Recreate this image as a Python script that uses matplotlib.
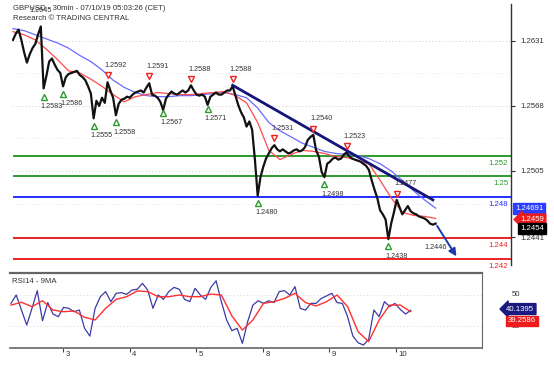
import numpy as np
import matplotlib
matplotlib.use("Agg")
import matplotlib.pyplot as plt
from matplotlib.transforms import blended_transform_factory as btf

# ---------------- data ----------------
close = [1.2632, 1.2638, 1.2642, 1.2632, 1.2620, 1.2610, 1.2618, 1.2624, 1.2628, 1.2637,
         1.2645, 1.2585, 1.2597, 1.2611, 1.2614, 1.2608, 1.2603, 1.2600, 1.2587, 1.2596,
         1.2599, 1.2600, 1.2601, 1.2602, 1.2598, 1.2596, 1.2593, 1.2587, 1.2580, 1.2556,
         1.2573, 1.2568, 1.2576, 1.2571, 1.2591, 1.2583, 1.2576, 1.2559, 1.2570, 1.2574,
         1.2575, 1.2577, 1.2576, 1.2579, 1.2581, 1.2582, 1.2583, 1.2581, 1.2586, 1.2590,
         1.2579, 1.2578, 1.2576, 1.2572, 1.2564, 1.2575, 1.2579, 1.2582, 1.2580, 1.2579,
         1.2581, 1.2583, 1.2581, 1.2583, 1.2588, 1.2583, 1.2579, 1.2578, 1.2579, 1.2577,
         1.2569, 1.2577, 1.2579, 1.2581, 1.2579, 1.2579, 1.2581, 1.2583, 1.2583, 1.2587,
         1.2578, 1.2569, 1.2562, 1.2557, 1.2548, 1.2553, 1.2545, 1.2516, 1.2481, 1.2499,
         1.2509, 1.2517, 1.2522, 1.2527, 1.2530, 1.2526, 1.2524, 1.2526, 1.2524, 1.2522,
         1.2523, 1.2525, 1.2526, 1.2524, 1.2525, 1.2528, 1.2535, 1.2538, 1.2540, 1.2525,
         1.2519, 1.2504, 1.2499, 1.2512, 1.2514, 1.2517, 1.2518, 1.2516, 1.2517, 1.2521,
         1.2523, 1.2519, 1.2517, 1.2516, 1.2515, 1.2514, 1.2512, 1.2510, 1.2506, 1.2496,
         1.2487, 1.2479, 1.2467, 1.2463, 1.2458, 1.2439, 1.2454, 1.2465, 1.2477, 1.2470,
         1.2463, 1.2467, 1.2471, 1.2466, 1.2464, 1.2463, 1.2461, 1.2460, 1.2459, 1.2457,
         1.2454, 1.2453, 1.2454]

# moving averages sampled every 4 bars
ma_fast = [1.2640, 1.2637, 1.2632, 1.2623, 1.2613, 1.2602, 1.2600, 1.2594, 1.2587, 1.2579,
           1.2572, 1.2577, 1.2579, 1.2581, 1.2580, 1.2579, 1.2579, 1.2580, 1.2581, 1.2582,
           1.2578, 1.2571, 1.2552, 1.2525, 1.2516, 1.2521, 1.2525, 1.2524, 1.2522, 1.2519,
           1.2518, 1.2515, 1.2512, 1.2496, 1.2479, 1.2465, 1.2462, 1.2461, 1.2459]
ma_slow = [1.2643, 1.2641, 1.2637, 1.2633, 1.2629, 1.2624, 1.2617, 1.2611, 1.2603, 1.2593,
           1.2586, 1.2581, 1.2578, 1.2577, 1.2577, 1.2578, 1.2578, 1.2579, 1.2580, 1.2581,
           1.2579, 1.2576, 1.2566, 1.2552, 1.2544, 1.2538, 1.2532, 1.2528, 1.2524, 1.2522,
           1.2521, 1.2520, 1.2517, 1.2512, 1.2505, 1.2496, 1.2486, 1.2477, 1.2469]

# RSI14 sampled every 2 bars, its 9MA every 4 bars
rsi = [44.6, 50.0, 40.3, 30.6, 41.4, 52.8, 33.4, 45.1, 37.7, 36.0,
       42.0, 41.4, 39.2, 40.3, 28.5, 23.5, 41.4, 48.9, 52.2, 45.7,
       51.1, 51.5, 50.4, 53.2, 53.7, 57.5, 53.2, 41.4, 50.0, 47.2,
       52.2, 54.9, 53.7, 47.2, 45.7, 54.3, 50.0, 47.2, 54.9, 59.2,
       45.7, 33.9, 27.0, 28.5, 18.8, 32.8, 43.5, 46.3, 44.6, 46.3,
       45.1, 52.2, 52.8, 50.0, 55.4, 41.4, 40.3, 44.6, 44.6, 47.8,
       49.4, 51.1, 45.1, 44.6, 36.0, 23.5, 19.2, 17.7, 21.4, 40.3,
       36.0, 45.7, 42.5, 44.6, 40.8, 37.7, 40.14]
rsi_ma = [43.5, 45.3, 42.5, 46.3, 40.3, 39.2, 39.7, 35.6, 33.9, 41.4,
          47.2, 48.9, 52.6, 52.2, 48.9, 48.9, 50.0, 48.9, 48.9, 50.6,
          50.0, 36.5, 27.4, 33.9, 44.6, 45.7, 47.8, 51.1, 45.1, 42.9,
          45.7, 50.0, 42.5, 26.3, 19.9, 33.9, 43.5, 43.5, 39.26]
rsi_last_text = "40.1395"
rsi_ma_last_text = "39.2586"

# pivots (bar index, price)
high_idx = [34, 49, 64, 79, 94, 108, 120, 138]
high_val = [1.2592, 1.2591, 1.2588, 1.2588, 1.2531, 1.2540, 1.2523, 1.2477]
low_idx = [11, 18, 29, 37, 54, 70, 88, 112, 135]
low_val = [1.2583, 1.2586, 1.2555, 1.2558, 1.2567, 1.2571, 1.2480, 1.2498, 1.2438]

levels = [1.252, 1.25, 1.248, 1.244, 1.242]
level_labels = ["1.252", "1.25", "1.248", "1.244", "1.242"]
level_colors = ["#2e9a2e", "#2e9a2e", "#2030ff", "#ee2020", "#ee2020"]

trend_x = [79, 151]
trend_y = [1.2588, 1.2477]
target_x = [152, 160]
target_y = [1.2454, 1.2420]

price_ticks = [1.2631, 1.2568, 1.2505, 1.2441]
day_ticks = [19.8, 45.1, 70.4, 95.7, 121.0, 146.3]
day_labels = ["3", "4", "5", "8", "9", "10"]

# ---------------- figure ----------------
W, H = 554, 365
plt.rcParams['font.family'] = ['Liberation Sans', 'DejaVu Sans']
fig = plt.figure(figsize=(W / 100, H / 100), dpi=100)
FS = 5.6
FSP = 5.2

def fx(px):
    return px / W

def fy(py):
    return 1 - py / H

xlim = (-0.36, 179.1)

ax = fig.add_axes([fx(12), fy(265), fx(511) - fx(12), fy(4) - fy(265)])
ax.set_xlim(*xlim)
ax.set_ylim(1.24139, 1.26668)
for s in ["top", "left", "bottom"]:
    ax.spines[s].set_visible(False)
ax.spines["right"].set_color("#333333")
ax.spines["right"].set_linewidth(1.0)
ax.yaxis.tick_right()
ax.set_yticks(price_ticks)
ax.set_yticklabels([f"{v:.4f}" for v in price_ticks], fontsize=FS, color="#333333")
ax.tick_params(axis="y", length=3, width=0.8, pad=4, colors="#333333")
ax.set_xticks([])

# faint dotted grid
for v in price_ticks:
    ax.axhline(v, color="#bbbbbb", lw=0.6, ls=(0, (1, 3)), zorder=0)
mids = [(a + b) / 2 for a, b in zip(price_ticks[:-1], price_ticks[1:])]
for v in mids:
    ax.axhline(v, color="#dddddd", lw=0.6, ls=(0, (1, 3)), zorder=0)

x_close = np.arange(len(close))
x_ma = np.arange(0, 4 * len(ma_fast), 4)

# levels
tr = btf(ax.transAxes, ax.transData)
for lv, lab, col in zip(levels, level_labels, level_colors):
    ax.plot([0.3, xlim[1]], [lv, lv], color=col, lw=1.4, zorder=2)
    ax.text(0.994, lv - 0.0004, lab, transform=tr, ha="right", va="top",
            fontsize=FS, color=col, zorder=6)

ax.plot(x_ma, ma_slow, color="#6a6aff", lw=0.9, zorder=3)
ax.plot(x_ma, ma_fast, color="#ff4a4a", lw=0.9, zorder=3)
ax.plot(x_close, close, color="#111111", lw=1.6, zorder=4)

ax.plot(trend_x, trend_y, color="#14147a", lw=2.0, zorder=5)
ax.annotate("", xy=(target_x[1], target_y[1]), xytext=(target_x[0], target_y[0]),
            arrowprops=dict(arrowstyle="-|>", color="#1d3aa8", lw=1.4,
                            mutation_scale=11), zorder=5)

# pivots
ax.plot(high_idx, [v + 0.0006 for v in high_val], ls="none", marker="v", ms=5,
        mfc="white", mec="#ee2020", mew=1.0, zorder=6)
for i, v in zip(high_idx, high_val):
    ax.text(i - 1.0, v + 0.0012, f"{v:.4f}", ha="left", va="bottom", fontsize=FSP,
            color="#333333", zorder=7)
ax.plot(low_idx, [v - 0.0006 for v in low_val], ls="none", marker="^", ms=5,
        mfc="white", mec="#2e9a2e", mew=1.0, zorder=6)
for i, v in zip(low_idx, low_val):
    ax.text(i - 1.0, v - 0.0012, f"{v:.4f}", ha="left", va="top", fontsize=FSP,
            color="#333333", zorder=7)
ax.text(x_close[-1], 1.2446 - 0.0012, "1.2446", ha="center", va="top", fontsize=FSP,
        color="#333333", zorder=7)
ax.text(10, 1.2645 + 0.0012, "1.2645", ha="center", va="bottom", fontsize=FSP,
        color="#333333", zorder=7)

# header
fig.text(fx(13), fy(8), "GBPUSD - 30min - 07/10/19 05:03:26 (CET)", fontsize=FS,
         color="#333333", va="center", ha="left")
fig.text(fx(13), fy(18), "Research © TRADING CENTRAL", fontsize=FS,
         color="#333333", va="center", ha="left")

# value boxes on the price axis
trf = btf(fig.transFigure, ax.transData)
ax.text(fx(515), ma_slow[-1], "1.24691", transform=trf, fontsize=FS, color="white",
        va="center", ha="left",
        bbox=dict(boxstyle="square,pad=0.25", fc="#2a3cff", ec="#2a3cff"), zorder=9)
ax.text(fx(520), ma_fast[-1] - 0.0001, "1.2459", transform=trf, fontsize=FS,
        color="white", va="center", ha="left",
        bbox=dict(boxstyle="larrow,pad=0.25", fc="#ee1c1c", ec="#ee1c1c"), zorder=9)
ax.text(fx(520), close[-1] - 0.00045, "1.2454", transform=trf, fontsize=FS,
        color="white", va="center", ha="left",
        bbox=dict(boxstyle="square,pad=0.25", fc="#000000", ec="#000000"), zorder=10)

# ---------------- RSI panel ----------------
ar = fig.add_axes([fx(10), fy(348), fx(482) - fx(10), fy(273) - fy(348)])
ar.set_xlim(*xlim)
ar.set_ylim(15.81, 64.19)
ar.spines["left"].set_visible(False)
for s in ["top", "bottom", "right"]:
    ar.spines[s].set_color("#666666")
ar.spines["top"].set_linewidth(1.6)
ar.spines["bottom"].set_linewidth(1.2)
ar.spines["right"].set_linewidth(0.8)
ar.set_yticks([])
ar.set_xticks(day_ticks)
ar.set_xticklabels([])
ar.tick_params(axis="x", direction="out", length=3, width=0.8, colors="#444444")
for d, lab in zip(day_ticks, day_labels):
    ar.text(d + 1.0, -0.04, lab, transform=btf(ar.transData, ar.transAxes),
            ha="left", va="top", fontsize=FS, color="#333333")
for v in (50, 30):
    ar.axhline(v, color="#cccccc", lw=0.6, ls=(0, (1, 3)), zorder=0)

x_rsi = np.arange(0, 2 * len(rsi), 2)
x_rsi_ma = np.arange(0, 4 * len(rsi_ma), 4)
ar.plot(x_rsi, rsi, color="#3b3ba6", lw=0.9, zorder=3)
ar.plot(x_rsi_ma, rsi_ma, color="#ff3030", lw=1.0, zorder=4)
ar.text(0.005, 0.93, "RSI14 - 9MA", transform=ar.transAxes, fontsize=FS,
        color="#333333", ha="left", va="top")

trr = btf(fig.transFigure, ar.transData)
ar.text(fx(512), 50, "50", transform=trr, fontsize=FS, color="#333333",
        va="center", ha="left", clip_on=False)
ar.text(fx(512), 30, "30", transform=trr, fontsize=FS, color="#333333",
        va="center", ha="left", clip_on=False, zorder=1)
ar.text(fx(506), rsi[-1] + 0.8, rsi_last_text,
        transform=trr, fontsize=FS, color="white", va="center", ha="left",
        bbox=dict(boxstyle="larrow,pad=0.25", fc="#1a1a80", ec="#1a1a80"), zorder=9)
ar.text(fx(508), rsi_ma[-1] - 6.0, rsi_ma_last_text, transform=trr, fontsize=FS,
        color="white", va="center", ha="left",
        bbox=dict(boxstyle="square,pad=0.25", fc="#ee1c1c", ec="#ee1c1c"), zorder=10)

fig.savefig("out.png", dpi=100)
